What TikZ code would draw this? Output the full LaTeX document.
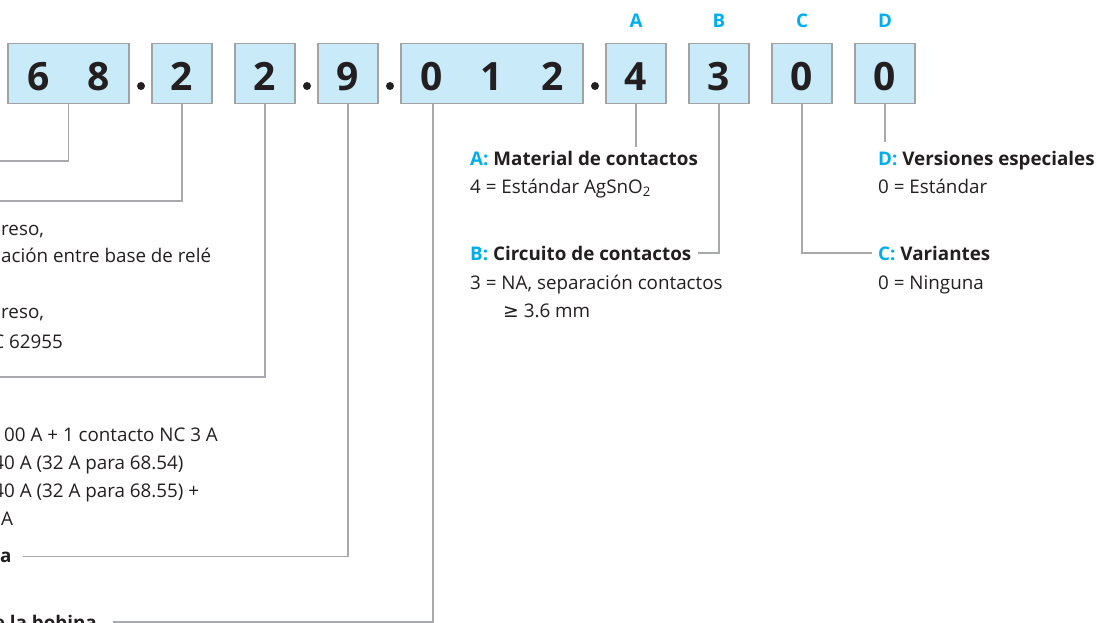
\documentclass[tikz,border=0pt]{standalone}
\usepackage{fontspec}
\setmainfont{Open Sans}
\newfontfamily\symfont{DejaVu Sans}
\usetikzlibrary{positioning,calc}
\definecolor{cellblue}{HTML}{C8EAF9}
\definecolor{cellgray}{HTML}{A3A3A3}
\definecolor{linegray}{HTML}{A7A9AC}
\definecolor{keycyan}{HTML}{00AEEF}
\definecolor{ink}{HTML}{231F20}

\begin{document}
\begin{tikzpicture}[
  x=1pt, y=-1pt,
  font=\fontsize{18.8}{22}\selectfont,
  cell/.style={draw=cellgray, line width=1.4pt, fill=cellblue, text=ink,
               minimum width=60pt, minimum height=60pt, inner sep=0pt,
               font=\fontsize{39}{39}\selectfont\bfseries,
               text height=35pt, text depth=0pt},
  sep/.style={circle, fill=ink, inner sep=0pt, minimum size=8pt},
  key/.style={text=keycyan, font=\fontsize{18.8}{22}\selectfont\bfseries, anchor=base},
  link/.style={draw=linegray, line width=1.2pt},
  txt/.style={text=ink, inner sep=0pt, anchor=base west},
  ttl/.style={txt, font=\fontsize{18.8}{22}\selectfont\bfseries}
]
\useasboundingbox (0,0) rectangle (1097,623);

% ---------------- top: the code, one cell per digit ----------------
\node[cell, minimum width=121pt] (b68) at (68.5,73.5)
  {\makebox[60.5pt]{6}\makebox[60.5pt]{8}};
\node[sep] (s1) at (141,86) {};
\node[cell] (b2a) at (182,73.5) {2};
\node[cell] (b2b) at (265,73.5) {2};
\node[sep] (s2) at (307,86) {};
\node[cell] (b9) at (348,73.5) {9};
\node[sep] (s3) at (390,86) {};
\node[cell, minimum width=182pt] (b012) at (492,73.5)
  {\makebox[60.7pt]{0}\makebox[60.7pt]{1}\makebox[60.7pt]{2}};
\node[sep] (s4) at (595,86) {};
\node[cell] (b4) at (636,73.5) {4};
\node[cell] (b3) at (719,73.5) {3};
\node[cell] (bC) at (802,73.5) {0};
\node[cell] (bD) at (885,73.5) {0};

\node[key] (kA) at (636,28) {A};
\node[key] (kB) at (719,28) {B};
\node[key] (kC) at (802,28) {C};
\node[key] (kD) at (885,28) {D};

% ---------------- right: options A to D ----------------
\node[ttl] (ta) at (470,165) {\textcolor{keycyan}{A:} Material de contactos};
\node[txt] (da) at (470,193) {4 = Estándar AgSnO\textsubscript{2}};
\node[ttl] (tb) at (470,260) {\textcolor{keycyan}{B:} Circuito de contactos};
\node[txt] (db) at (470,289) {3 = NA, separación contactos};
\node[txt] (db2) at (503,317) {{\symfont ≥} 3.6 mm};

\node[ttl] (td) at (878,165) {\textcolor{keycyan}{D:} Versiones especiales};
\node[txt] (dd) at (878,193) {0 = Estándar};
\node[ttl] (tc) at (878,260) {\textcolor{keycyan}{C:} Variantes};
\node[txt] (dc) at (878,289) {0 = Ninguna};

\draw[link] (b4.south) -- ([yshift=4pt]b4.south |- ta.north);
\draw[link] (bD.south) -- ([yshift=9pt]bD.south |- td.north);
\draw[link] (b3.south) |- ([xshift=7pt]tb.east);
\draw[link] (bC.south) |- ([xshift=-6pt]tc.west);

% ---------------- left: text running off the page ----------------
\node[txt] (l1) at (1,235) {reso,};
\node[txt] (l2) at (1,262) {ación entre base de relé};
\node[txt] (l3) at (1,318) {reso,};
\node[txt, anchor=base east] (l4) at (63,348) {C 62955};
\node[txt] (l5) at (4,441) {00 A + 1 contacto NC 3 A};
\node[txt] (l6) at (4,469) {\llap{4}0 A (32 A para 68.54)};
\node[txt] (l7) at (4,497) {\llap{4}0 A (32 A para 68.55) +};
\node[txt] (l8) at (1,525) {A};
\node[ttl] (t9) at (0,562) {a};
\node[ttl, anchor=base east] (tbob) at (97,629) {e la bobina};

\coordinate (e68) at (-5,161);
\coordinate (e2a) at (-5,201);
\coordinate (e2b) at (-5,377);

\draw[link] (b68.south) |- (e68);
\draw[link] (b2a.south) |- (e2a);
\draw[link] (b2b.south) |- (e2b);
\draw[link] (b9.south) |- ([xshift=11pt]t9.east);
\draw[link] ([xshift=-59pt]b012.south) |- ([xshift=16pt]tbob.east);

\end{tikzpicture}
\end{document}
